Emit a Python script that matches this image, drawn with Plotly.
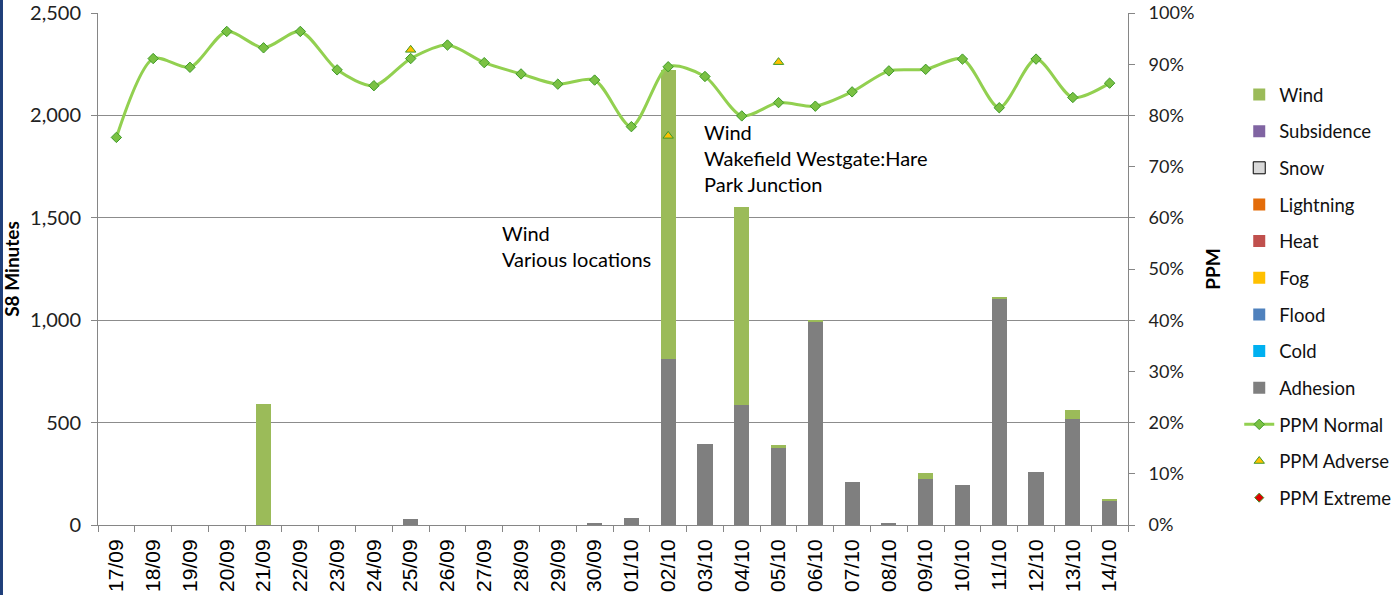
import plotly.graph_objects as go

# Categories (day/month)
dates = ["17/09", "18/09", "19/09", "20/09", "21/09", "22/09", "23/09", "24/09", "25/09", "26/09",
         "27/09", "28/09", "29/09", "30/09", "01/10", "02/10", "03/10", "04/10", "05/10", "06/10",
         "07/10", "08/10", "09/10", "10/10", "11/10", "12/10", "13/10", "14/10"]

# S8 minutes by cause
adhesion = [0, 0, 0, 0, 0, 0, 0, 0, 30, 0, 0, 0, 0, 5, 33, 810, 395, 586, 374, 996,
            211, 10, 223, 194, 1105, 260, 519, 122]
wind = [0, 0, 0, 0, 590, 0, 0, 0, 0, 0, 0, 0, 0, 0, 0, 1412, 0, 968, 15, 5,
        0, 0, 32, 0, 6, 0, 41, 5]
# causes with no minutes in this period
empty = [None] * len(dates)
cold = empty
flood = empty
fog = empty
heat = empty
lightning = empty
snow = empty
subsidence = empty

# PPM (%)
ppm_normal = [75.7, 91.1, 89.4, 96.4, 93.2, 96.4, 88.9, 85.8, 91.1, 93.75,
              90.3, 88.1, 86.1, 86.9, 77.8, 89.5, 87.6, 79.9, 82.5, 81.8,
              84.6, 88.7, 89.0, 91.0, 81.5, 91.0, 83.5, 86.3]
ppm_adverse = [None] * 8 + [92.8] + [None] * 6 + [76.0, None, None, 90.4] + [None] * 9
ppm_extreme = [None] * len(dates)

fig = go.Figure()

# stacked bars, bottom first; legendrank gives the legend order
bar_series = [
    ("Adhesion", adhesion, "#7F7F7F", 9),
    ("Cold", cold, "#00B0F0", 8),
    ("Flood", flood, "#4F81BD", 7),
    ("Fog", fog, "#FFC000", 6),
    ("Heat", heat, "#C0504D", 5),
    ("Lightning", lightning, "#E36C09", 4),
    ("Snow", snow, "#D9D9D9", 3),
    ("Subsidence", subsidence, "#8064A2", 2),
    ("Wind", wind, "#9BBB59", 1),
]
for name, vals, col, rank in bar_series:
    fig.add_trace(go.Bar(
        name=name, x=dates, y=vals, marker_color=col,
        marker_line=dict(color="#000000" if name == "Snow" else col, width=1 if name == "Snow" else 0),
        legendrank=rank, legendgroup=name,
    ))

fig.add_trace(go.Scatter(
    name="PPM Normal", x=dates, y=ppm_normal, yaxis="y2",
    mode="lines+markers", line=dict(color="#92D050", width=3, shape="spline", smoothing=0.8),
    marker=dict(symbol="diamond", size=8, color="#7AC143", line=dict(color="#3E9A28", width=1)),
    legendrank=10, legendgroup="PPM Normal",
))
fig.add_trace(go.Scatter(
    name="PPM Adverse", x=dates, y=ppm_adverse, yaxis="y2", mode="markers",
    marker=dict(symbol="triangle-up", size=9, color="#FFC000", line=dict(color="#3E9A28", width=1)),
    legendrank=11, legendgroup="PPM Adverse",
))
fig.add_trace(go.Scatter(
    name="PPM Extreme", x=dates, y=ppm_extreme, yaxis="y2", mode="markers",
    marker=dict(symbol="diamond", size=7, color="#E00000", line=dict(color="#3E9A28", width=1)),
    legendrank=12, legendgroup="PPM Extreme",
))

fig.add_annotation(x=0.390, y=0.598, xref="paper", yref="paper", xanchor="left", yanchor="top",
                   align="left", showarrow=False, text="Wind<br>Various locations",
                   font=dict(family="Lato", size=20, color="#000000"))
fig.add_annotation(x=0.586, y=0.795, xref="paper", yref="paper", xanchor="left", yanchor="top",
                   align="left", showarrow=False, text="Wind<br>Wakefield Westgate:Hare<br>Park Junction",
                   font=dict(family="Lato", size=20, color="#000000"))

# thin navy frame edge on the left
fig.add_shape(type="line", xref="paper", yref="paper", x0=-0.0937, x1=-0.0937, y0=-0.2, y1=1.1,
              line=dict(color="#1F3F7A", width=3))

fig.update_layout(
    width=1399, height=595,
    margin=dict(l=98, r=271, t=13, b=70, autoexpand=False),
    paper_bgcolor="white", plot_bgcolor="white",
    barmode="stack", bargap=0.59,
    font=dict(family="Lato", size=19, color="#222222"),
    showlegend=True,
    legend=dict(x=1.108, xanchor="left", y=0.877, yanchor="top", traceorder="grouped",
                tracegroupgap=9.6, font=dict(family="Lato", size=18.5, color="#111111"),
                bgcolor="rgba(0,0,0,0)"),
    xaxis=dict(type="category", range=[-0.5, 27.5], tickangle=-90, tickson="boundaries",
               ticks="outside", ticklen=6, automargin=False, ticklabelstandoff=5,
               ticklabeloverflow="allow",
               tickcolor="#868686", showline=True, linecolor="#868686", linewidth=1,
               tickfont=dict(family="Liberation Sans", size=21, color="#000000"),
               showgrid=False),
    yaxis=dict(title=dict(text="S8 Minutes", font=dict(family="Lato", size=19, color="#000000"),
                          standoff=10),
               range=[0, 2500], dtick=500, tickformat=",", ticks="outside", ticklen=6,
               ticklabelstandoff=6, ticklabeloverflow="allow",
               tickcolor="#868686", showline=True, linecolor="#868686", automargin=False,
               showgrid=True, gridcolor="#8C8C8C", gridwidth=1, zeroline=False,
               tickfont=dict(family="Lato", size=20, color="#222222")),
    yaxis2=dict(title=dict(text="PPM", font=dict(family="Lato", size=19, color="#000000"),
                           standoff=13),
                overlaying="y", side="right", range=[0, 100], dtick=10, ticksuffix="%",
                ticks="outside", ticklen=6, ticklabelstandoff=10, ticklabeloverflow="allow",
                tickcolor="#868686", showline=True, linecolor="#868686",
                showgrid=False, zeroline=False, automargin=False,
                tickfont=dict(family="Lato", size=18, color="#222222")),
)
fig.update_yaxes(title_font_weight="bold")

# drop the browser's default body margin so the figure sits at the page corner
fig.write_html("out.html", config={"displayModeBar": False},
               post_script="document.body.style.margin='0px';")
